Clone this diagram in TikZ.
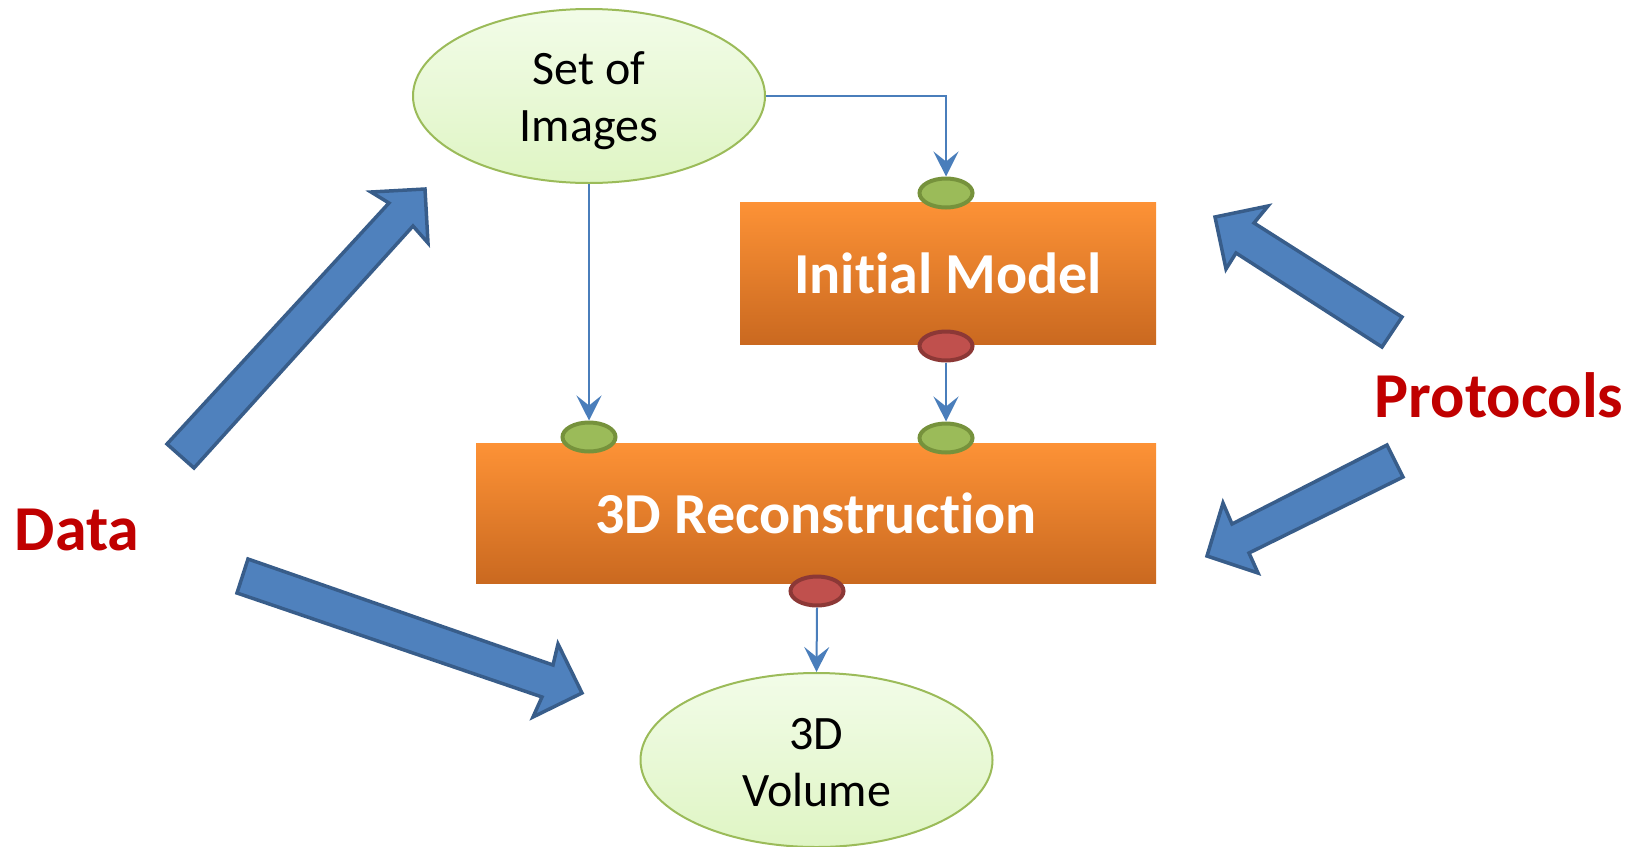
\documentclass[tikz,border=0pt]{standalone}
\usepackage{fontspec}
\setmainfont{Carlito}[Ligatures=NoCommon]
\usetikzlibrary{shapes.geometric,arrows.meta}

% keep "t" and "i" as separate glyphs
\newcommand\nolig{\kern0pt\relax}

\definecolor{flowblue}{HTML}{4A7EBB}
\definecolor{fatfill}{HTML}{4F81BD}
\definecolor{fatedge}{HTML}{385D8A}
\definecolor{orangetop}{HTML}{FD9236}
\definecolor{orangebot}{HTML}{CA6920}
\definecolor{leaftop}{HTML}{F2FCE8}
\definecolor{leafbot}{HTML}{DFF5C4}
\definecolor{leafedge}{HTML}{9BBB59}
\definecolor{greenport}{HTML}{9BBB59}
\definecolor{greenportedge}{HTML}{76923C}
\definecolor{redport}{HTML}{C0504D}
\definecolor{redportedge}{HTML}{8C3836}
\definecolor{labelred}{HTML}{C00000}

\begin{document}
\begin{tikzpicture}[x=1pt,y=-1pt,
  dataset/.style={ellipse, draw=leafedge, line width=2pt, top color=leaftop,
    bottom color=leafbot, minimum width=352pt, minimum height=174pt,
    inner sep=0pt},
  datatext/.style={inner sep=0pt, align=center,
    font=\fontsize{48}{57}\selectfont},
  stage/.style={rectangle, top color=orangetop, bottom color=orangebot,
    inner sep=0pt, text=white, font=\fontsize{58}{70}\selectfont\bfseries},
  inport/.style={ellipse, draw=greenportedge, fill=greenport, line width=4pt,
    minimum width=53pt, minimum height=29pt, inner sep=0pt},
  outport/.style={inport, draw=redportedge, fill=redport},
  flow/.style={draw=flowblue, line width=2pt,
    -{Stealth[length=25pt,width=25pt,inset=10pt]}},
  fat/.style={draw=fatedge, fill=fatfill, line width=3.5pt, line join=miter},
  side/.style={text=labelred, font=\fontsize{64}{76}\selectfont\bfseries,
    anchor=base}
]
\useasboundingbox (0,0) rectangle (1632,846);

% broad blue arrows from the side labels
\draw[fat] (167,444) -- (389,203) -- (371,192) -- (425,189) -- (428,243)
  -- (413,226) -- (194,468) -- cycle;
\draw[fat] (248,559) -- (553,665) -- (558,644) -- (582,693) -- (533,717)
  -- (542,697) -- (237,593) -- cycle;
\draw[fat] (1402,317) -- (1254,223) -- (1268,206) -- (1215,217) -- (1226,269)
  -- (1236,253) -- (1382,347) -- cycle;
\draw[fat] (1387,445) -- (1232,524) -- (1223,503) -- (1207,556) -- (1258,573)
  -- (1249,553) -- (1403,477) -- cycle;

% side labels
\node[side] (data) at (77,550) {Data};
\node[side] (proto) at (1499,417) {Protocols};

% data sets
\node[dataset] (soi) at (589,96) {};
\node[datatext] (soitext) at ([yshift=-5pt]soi.center) {Set of\\Images};
\node[dataset] (vol) at (816.5,760) {};
\node[datatext] (voltext) at ([yshift=-3pt]vol.center) {3D\\Volume};

% processing stages
\node[stage, minimum width=416pt, minimum height=142pt] (im) at (948,273) {Init\nolig ial Model};
\node[stage, minimum width=680pt, minimum height=140pt] (rec) at (816,513) {3D Reconstruct\nolig ion};

% input / output ports
\node[inport]  (p1) at (946,193) {};
\node[outport] (p2) at (946,346) {};
\node[inport]  (p3) at (589,437) {};
\node[inport]  (p4) at (946,438) {};
\node[outport] (p5) at (817,591) {};

% data flow
\draw[flow] (soi.east) -| (p1.north);
\draw[flow] (soi.south) -- (p3.north);
\draw[flow] (p2.south) -- (p4.north);
\draw[flow] (p5.south) -- (vol.north);
\end{tikzpicture}
\end{document}
